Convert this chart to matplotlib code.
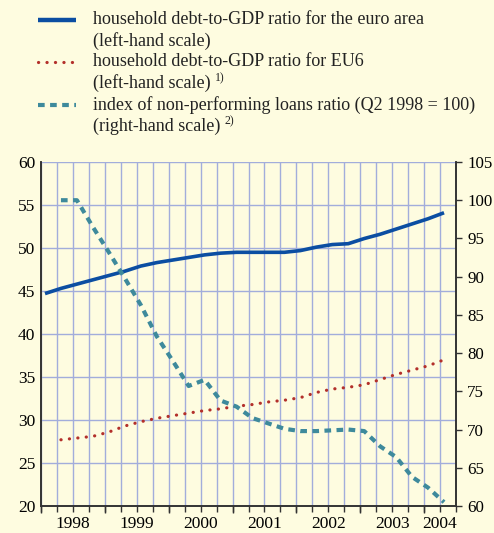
import matplotlib
matplotlib.use("Agg")
import matplotlib.pyplot as plt
from matplotlib.lines import Line2D
import numpy as np

plt.rcParams['font.family'] = ['Liberation Serif', 'DejaVu Serif']

# quarters counted from 1998 Q1 (0) to 2004 Q2 (25)
years = ['1998', '1999', '2000', '2001', '2002', '2003', '2004']

euro_area_q = list(range(0, 26))
euro_area = [44.7, 45.3, 45.8, 46.3, 46.8, 47.3, 47.9, 48.3, 48.6, 48.9,
             49.2, 49.4, 49.5, 49.5, 49.5, 49.5, 49.7, 50.1, 50.4, 50.5,
             51.1, 51.6, 52.2, 52.8, 53.4, 54.1]

eu6_q = list(range(1, 26))
eu6 = [27.7, 27.9, 28.1, 28.6, 29.3, 29.8, 30.2, 30.5, 30.8, 31.1,
       31.3, 31.6, 31.8, 32.1, 32.3, 32.6, 33.2, 33.6, 33.8, 34.1,
       34.7, 35.3, 35.8, 36.3, 37.0]

npl_q = list(range(1, 26))
npl = [100.0, 100.0, 96.5, 93.2, 89.8, 86.3, 82.2, 79.0, 75.7, 76.5,
       73.8, 73.0, 71.5, 70.8, 70.1, 69.8, 69.8, 69.9, 70.0, 69.8,
       67.8, 66.4, 63.8, 62.4, 60.5]

bg = '#FEFCE0'
grid_c = '#A2ADDB'
blue = '#0B4EA2'
red = '#B3302B'
teal = '#3E8A9C'

W, H = 494, 533
fig = plt.figure(figsize=(W / 100, H / 100), dpi=100, facecolor=bg)
ax = fig.add_axes([41 / W, 1 - 506 / H, 415 / W, 344 / H], facecolor=bg)
ax2 = ax.twinx()

off = 0.25  # position of a quarter's point inside its slot
ax.plot(np.array(euro_area_q) + off, euro_area, color=blue, lw=2.6,
        solid_capstyle='butt', zorder=5)
ax.plot(np.array(eu6_q) + off, eu6, color=red, lw=2.3,
        linestyle=(0, (0.05, 2.6)), dash_capstyle='round', zorder=5)
ax2.plot(np.array(npl_q) + off, npl, color=teal, lw=3.0,
         linestyle=(0, (1.6, 1.3)), dash_capstyle='butt', zorder=5)

ax.set_xlim(0, 26)
ax.set_ylim(20, 60)
ax2.set_ylim(60, 105)

ax.set_yticks(np.arange(20, 61, 5))
ax2.set_yticks(np.arange(60, 106, 5))
ax.xaxis.remove_overlapping_locs = False
ax.set_xticks(np.arange(0, 27, 1))
ax.set_xticklabels([])
ax.set_xticks([2, 6, 10, 14, 18, 22, 25], minor=True)
ax.set_xticklabels(years, minor=True)

ax.grid(True, which='major', color=grid_c, lw=1.0)
ax.set_axisbelow(True)

# longer ticks at the start of each year
ax.vlines(np.arange(0, 25, 4), 0, -0.02, color='#333333', lw=1.0,
          transform=ax.get_xaxis_transform(), clip_on=False)

tfs = 12.5
ax.tick_params(axis='x', which='major', direction='out', length=4,
               width=1, color='#333333')
ax.tick_params(axis='x', which='minor', length=0, pad=7, labelsize=tfs)
ax.tick_params(axis='y', length=0, pad=4, labelsize=tfs)
ax2.tick_params(axis='y', direction='out', length=4, width=1,
                color='#333333', pad=4, labelsize=12.2)

for a in (ax, ax2):
    a.spines['top'].set_visible(False)
    for s in ('left', 'right', 'bottom'):
        a.spines[s].set_color('#333333')
        a.spines[s].set_linewidth(1.2)

# legend, drawn by hand to match the layout
fs = 13
entries = [
    (dict(color=blue, lw=3.2, solid_capstyle='butt'),
     ['household debt-to-GDP ratio for the euro area', '(left-hand scale)'], None, 20),
    (dict(color=red, lw=2.3, linestyle=(0, (0.05, 2.6)), dash_capstyle='round'),
     ['household debt-to-GDP ratio for EU6', '(left-hand scale)'], '1)', 62),
    (dict(color=teal, lw=3.0, linestyle=(0, (1.6, 1.3))),
     ['index of non-performing loans ratio (Q2 1998 = 100)',
      '(right-hand scale)'], '2)', 105),
]
renderer = fig.canvas.get_renderer()
for style, lines, note, y in entries:
    fig.add_artist(Line2D([38 / W, 76 / W], [1 - y / H, 1 - y / H],
                          transform=fig.transFigure, **style))
    for i, t in enumerate(lines):
        txt = fig.text(93 / W, 1 - (y + 21.5 * i) / H, t, fontsize=fs,
                       va='center', ha='left', color='#222222')
    if note:
        bb = txt.get_window_extent(renderer)
        fig.text((bb.x1 + 4) / W, 1 - (y + 21.5 - 5) / H, note,
                 fontsize=8.5, va='center', ha='left', color='#222222')

fig.savefig('out.png', dpi=100, facecolor=bg)
